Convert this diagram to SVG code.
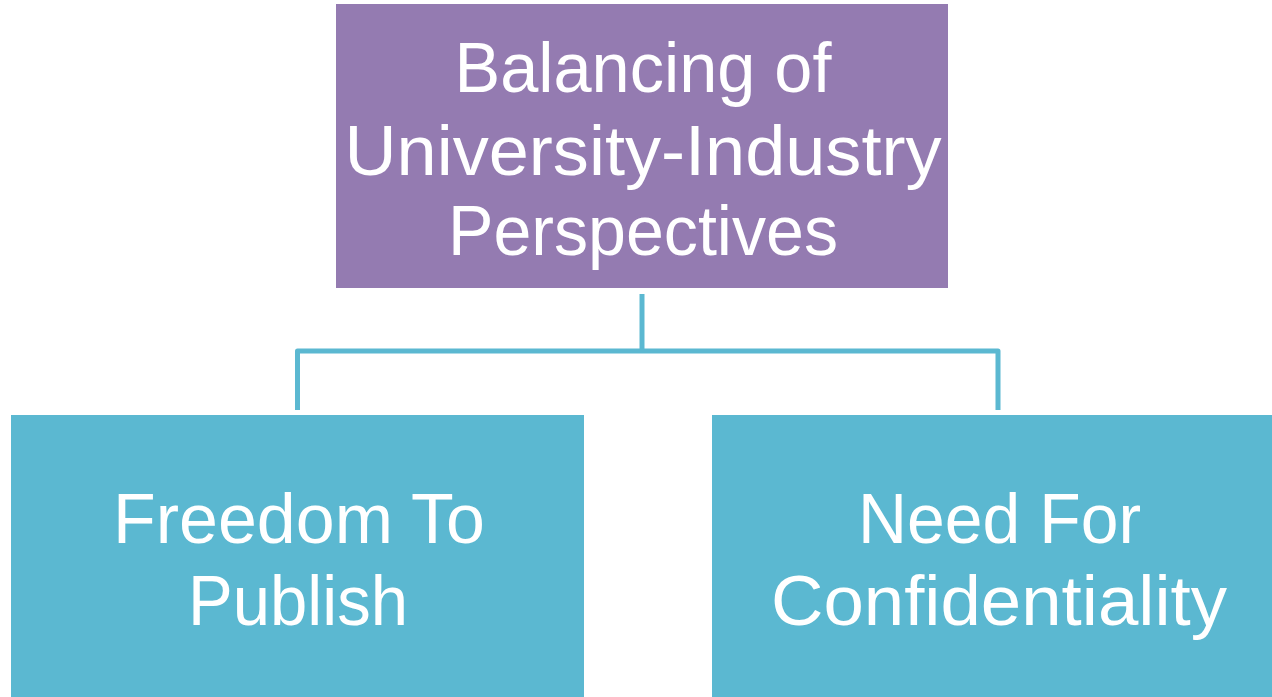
<svg xmlns="http://www.w3.org/2000/svg" width="1272" height="697" viewBox="0 0 1272 697">
<style>
.top{fill:#947BB1}
.child{fill:#5BB8D1}
.lbl{font-family:"Liberation Sans","Open Sans",sans-serif;font-size:70px;fill:#FFFFFF;text-anchor:middle}
.conn{fill:none;stroke:#5BB8D1;stroke-width:5;stroke-linejoin:round}
</style>
<rect width="1272" height="697" fill="#FFFFFF"/>
<g id="connectors">
<path class="conn" d="M642 294 V351"/>
<path class="conn" d="M297.5 410 V351 H998 V410"/>
</g>
<g id="node-root">
<rect class="top" x="336" y="4" width="612" height="284"/>
<text class="lbl" x="643" y="92" textLength="377" lengthAdjust="spacingAndGlyphs">Balancing of</text>
<text class="lbl" x="643" y="175" textLength="597" lengthAdjust="spacingAndGlyphs">University-Industry</text>
<text class="lbl" x="643" y="255" textLength="390" lengthAdjust="spacingAndGlyphs">Perspectives</text>
</g>
<g id="node-publish">
<rect class="child" x="11" y="415" width="573" height="290"/>
<text class="lbl" x="299" y="543" textLength="372" lengthAdjust="spacingAndGlyphs">Freedom To</text>
<text class="lbl" x="298" y="625" textLength="220" lengthAdjust="spacingAndGlyphs">Publish</text>
</g>
<g id="node-confidentiality">
<rect class="child" x="712" y="415" width="574" height="290"/>
<text class="lbl" x="999.5" y="543" textLength="283" lengthAdjust="spacingAndGlyphs">Need For</text>
<text class="lbl" x="999" y="625" textLength="456" lengthAdjust="spacingAndGlyphs">Confidentiality</text>
</g>
</svg>
